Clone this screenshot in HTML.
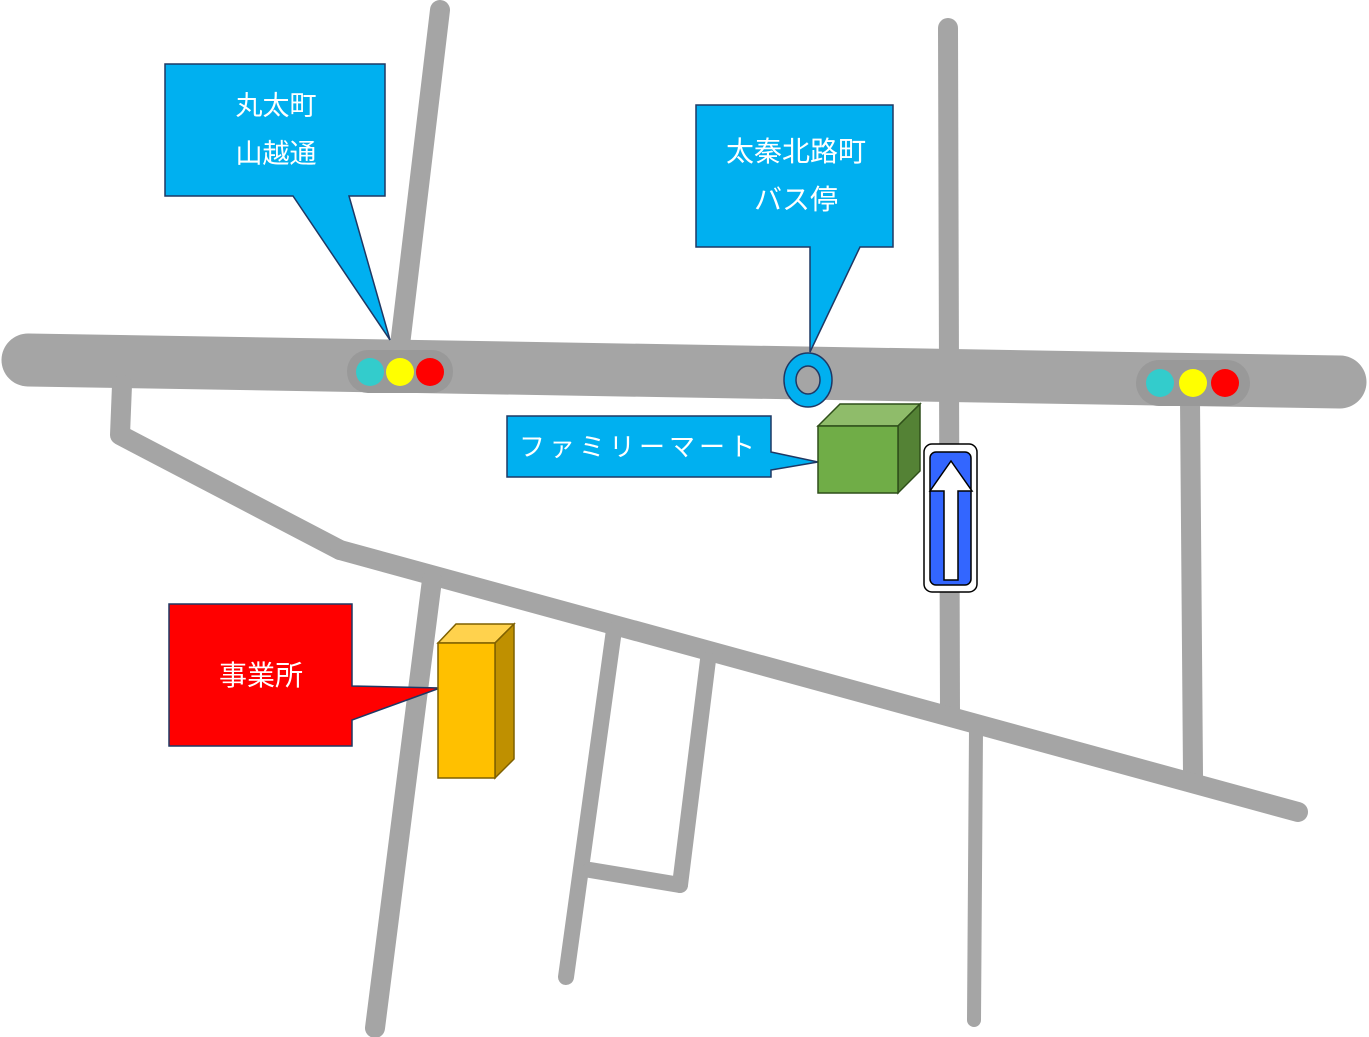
<!DOCTYPE html>
<html><head><meta charset="utf-8"><style>
html,body{margin:0;padding:0;background:#fff;}
svg{display:block;}
text{font-family:"Liberation Sans","Noto Sans CJK JP",sans-serif;fill:#fff;}
</style></head><body>
<svg width="1369" height="1037" viewBox="0 0 1369 1037" xmlns="http://www.w3.org/2000/svg">
<g stroke="#a5a5a5" fill="none" stroke-linecap="round" stroke-linejoin="round">
<line x1="28" y1="360" x2="1340" y2="382" stroke-width="53"/>
<line x1="440" y1="10" x2="400" y2="345" stroke-width="20"/>
<line x1="948" y1="28" x2="950" y2="712" stroke-width="20"/>
<line x1="1190" y1="400" x2="1193" y2="775" stroke-width="20"/>
<polyline points="122,385 120,435 340,550" stroke-width="20"/>
<line x1="340" y1="550" x2="1298" y2="812" stroke-width="20"/>
<line x1="432" y1="580" x2="375" y2="1028" stroke-width="20"/>
<line x1="614" y1="630" x2="566" y2="977" stroke-width="16"/>
<line x1="708" y1="660" x2="680" y2="885" stroke-width="16"/>
<line x1="590" y1="870" x2="680" y2="885" stroke-width="16"/>
<line x1="976" y1="730" x2="974" y2="1020" stroke-width="14"/>
</g>
<rect x="347" y="350" width="106" height="43" rx="21" fill="#999"/>
<circle cx="370" cy="372" r="14" fill="#33cccc"/><circle cx="400" cy="372" r="14" fill="#ff0"/><circle cx="430" cy="372" r="14" fill="#f00"/>
<rect x="1136" y="360" width="114" height="46" rx="23" fill="#999"/>
<circle cx="1160" cy="383" r="14" fill="#33cccc"/><circle cx="1193" cy="383" r="14" fill="#ff0"/><circle cx="1225" cy="383" r="14" fill="#f00"/>
<path d="M165,64 H385 V196 H349 L390,340 L293,196 H165 Z" fill="#00b0f0" stroke="#1f3864" stroke-width="1.5"/>
<text x="276" y="115" font-size="27" text-anchor="middle">丸太町</text>
<text x="276" y="163" font-size="27" text-anchor="middle">山越通</text>
<path d="M696,105 H893 V247 H860 L810,352 L810,247 H696 Z" fill="#00b0f0" stroke="#1f3864" stroke-width="1.5"/>
<text x="796" y="161" font-size="28" text-anchor="middle">太秦北路町</text>
<text x="796" y="209" font-size="28" text-anchor="middle">バス停</text>
<ellipse cx="808" cy="380" rx="24" ry="27" fill="#00b0f0" stroke="#1f3864" stroke-width="1.5"/>
<ellipse cx="808" cy="380" rx="12" ry="14" fill="#a5a5a5" stroke="#1f3864" stroke-width="1.5"/>
<path d="M507,416 H771 V452 L818,462 L771,470 V477 H507 Z" fill="#00b0f0" stroke="#1f3864" stroke-width="1.5"/>
<text x="639" y="456" font-size="26" text-anchor="middle" letter-spacing="4">ファミリーマート</text>
<polygon points="818,426 840,404 920,404 898,426" fill="#8fbc6a" stroke="#2f4f1a" stroke-width="1.5"/>
<polygon points="898,426 920,404 920,471 898,493" fill="#548235" stroke="#2f4f1a" stroke-width="1.5"/>
<rect x="818" y="426" width="80" height="67" fill="#70ad47" stroke="#2f4f1a" stroke-width="1.5"/>
<rect x="924" y="444" width="53" height="148" rx="8" fill="#fff" stroke="#000" stroke-width="1.5"/>
<rect x="930" y="452" width="41" height="133" rx="6" fill="#3366ff" stroke="#000" stroke-width="1.5"/>
<polygon points="951,461 972,491 958,491 958,580 944,580 944,491 930,491" fill="#fff" stroke="#000" stroke-width="1.5"/>
<path d="M169,604 H352 V686 L440,688 L352,720 V746 H169 Z" fill="#f00" stroke="#1f3864" stroke-width="1.5"/>
<text x="261" y="685" font-size="28" text-anchor="middle">事業所</text>
<polygon points="438,643 456,624 514,624 495,643" fill="#ffd24d" stroke="#7f6000" stroke-width="1.5"/>
<polygon points="495,643 514,624 514,759 495,778" fill="#bf9000" stroke="#7f6000" stroke-width="1.5"/>
<rect x="438" y="643" width="57" height="135" fill="#ffc000" stroke="#7f6000" stroke-width="1.5"/>
</svg>
</body></html>
